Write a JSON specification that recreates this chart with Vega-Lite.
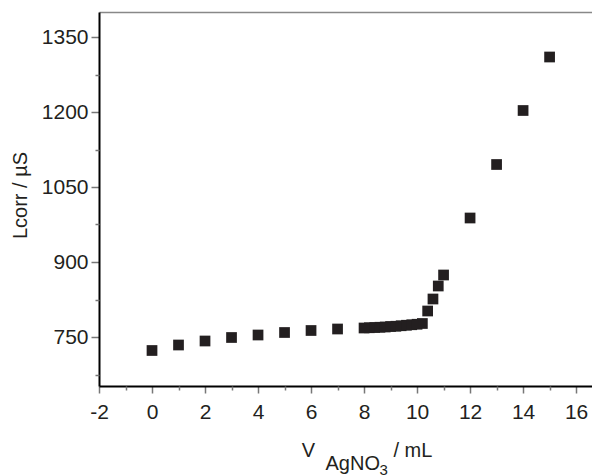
{
  "$schema": "https://vega.github.io/schema/vega-lite/v6.json",
  "width": 493,
  "height": 374,
  "autosize": {"type": "none"},
  "padding": {"left": 99, "top": 12, "right": 0, "bottom": 90},
  "config": {"font": "Liberation Sans", "view": {"stroke": null}},
  "data": {"values": [
    {"v": 0, "L": 723},
    {"v": 1, "L": 734},
    {"v": 2, "L": 742},
    {"v": 3, "L": 749},
    {"v": 4, "L": 754},
    {"v": 5, "L": 759},
    {"v": 6, "L": 763},
    {"v": 7, "L": 766},
    {"v": 8.0, "L": 768},
    {"v": 8.2, "L": 768.5},
    {"v": 8.4, "L": 769},
    {"v": 8.6, "L": 769.5},
    {"v": 8.8, "L": 770},
    {"v": 9.0, "L": 771},
    {"v": 9.2, "L": 771.5},
    {"v": 9.4, "L": 772.5},
    {"v": 9.6, "L": 773.5},
    {"v": 9.8, "L": 774.5},
    {"v": 10.0, "L": 775.5},
    {"v": 10.2, "L": 777},
    {"v": 10.4, "L": 802},
    {"v": 10.6, "L": 826},
    {"v": 10.8, "L": 852},
    {"v": 11.0, "L": 874},
    {"v": 12, "L": 988},
    {"v": 13, "L": 1095},
    {"v": 14, "L": 1203},
    {"v": 15, "L": 1310}
  ]},
  "resolve": {"axis": {"x": "independent", "y": "independent"}},
  "layer": [
    {
      "mark": {"type": "point", "shape": "square", "filled": true, "size": 115, "color": "#231f20", "opacity": 1},
      "encoding": {
        "x": {"field": "v", "type": "quantitative", "scale": {"domain": [-2, 16.6], "nice": false, "zero": false},
          "axis": {"orient": "bottom", "values": [-2, 0, 2, 4, 6, 8, 10, 12, 14, 16], "labelExpr": "'' + datum.value", "grid": false, "tickSize": 7, "tickColor": "#777777", "tickWidth": 1.5, "domainColor": "#000000", "domainWidth": 2, "labelFontSize": 21, "labelColor": "#231f20", "labelPadding": 8, "labelFlush": false, "title": "V", "titleFontSize": 20, "titleFontWeight": "normal", "titleColor": "#231f20", "titleX": 209, "titleY": 70, "titleAlign": "center", "titleBaseline": "alphabetic"}},
        "y": {"field": "L", "type": "quantitative", "scale": {"domain": [652, 1400], "nice": false, "zero": false},
          "axis": {"orient": "left", "values": [750, 900, 1050, 1200, 1350], "labelExpr": "'' + datum.value", "grid": false, "tickSize": 8, "tickColor": "#777777", "tickWidth": 1.5, "domainColor": "#000000", "domainWidth": 2, "labelFontSize": 21, "labelColor": "#231f20", "labelPadding": 3, "labelFlush": false, "title": "Lcorr / µS", "titleFontSize": 20, "titleFontWeight": "normal", "titleColor": "#231f20", "titleAngle": 270, "titleX": -79, "titleY": 183, "titleAlign": "center", "titleBaseline": "middle"}}
      }
    },
    {
      "mark": {"type": "point", "opacity": 0},
      "encoding": {
        "x": {"field": "v", "type": "quantitative", "scale": {"domain": [-2, 16.6], "nice": false, "zero": false},
          "axis": {"orient": "bottom", "values": [-1, 1, 3, 5, 7, 9, 11, 13, 15], "grid": false, "tickSize": 4, "tickColor": "#777777", "tickWidth": 1.5, "domain": false, "labels": false, "title": "AgNO", "titleFontSize": 20, "titleFontWeight": "normal", "titleColor": "#231f20", "titleX": 226, "titleY": 83, "titleAlign": "left", "titleBaseline": "alphabetic"}},
        "y": {"field": "L", "type": "quantitative", "scale": {"domain": [652, 1400], "nice": false, "zero": false},
          "axis": {"orient": "left", "values": [675, 825, 975, 1125, 1275], "grid": false, "tickSize": 4, "tickColor": "#777777", "tickWidth": 1.5, "domain": false, "labels": false, "title": null}}
      }
    },
    {
      "mark": {"type": "point", "opacity": 0},
      "encoding": {
        "x": {"field": "v", "type": "quantitative", "scale": {"domain": [-2, 16.6], "nice": false, "zero": false},
          "axis": {"orient": "bottom", "ticks": false, "domain": false, "labels": false, "grid": false, "title": "3", "titleFontSize": 15, "titleFontWeight": "normal", "titleColor": "#231f20", "titleX": 280, "titleY": 88, "titleAlign": "left", "titleBaseline": "alphabetic"}},
        "y": {"field": "L", "type": "quantitative", "scale": {"domain": [652, 1400], "nice": false, "zero": false}, "axis": null}
      }
    },
    {
      "mark": {"type": "point", "opacity": 0},
      "encoding": {
        "x": {"field": "v", "type": "quantitative", "scale": {"domain": [-2, 16.6], "nice": false, "zero": false},
          "axis": {"orient": "bottom", "ticks": false, "domain": false, "labels": false, "grid": false, "title": "/ mL", "titleFontSize": 20, "titleFontWeight": "normal", "titleColor": "#231f20", "titleX": 294, "titleY": 70, "titleAlign": "left", "titleBaseline": "alphabetic"}},
        "y": {"field": "L", "type": "quantitative", "scale": {"domain": [652, 1400], "nice": false, "zero": false}, "axis": null}
      }
    },
    {
      "mark": {"type": "point", "opacity": 0},
      "encoding": {
        "x": {"field": "v", "type": "quantitative", "scale": {"domain": [-2, 16.6], "nice": false, "zero": false},
          "axis": {"orient": "top", "ticks": false, "labels": false, "grid": false, "domainColor": "#888888", "domainWidth": 1.5, "title": null}},
        "y": {"field": "L", "type": "quantitative", "scale": {"domain": [652, 1400], "nice": false, "zero": false}, "axis": null}
      }
    }
  ]
}
